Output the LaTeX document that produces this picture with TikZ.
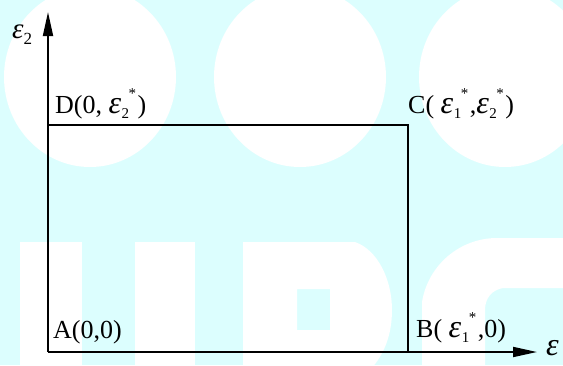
\documentclass[tikz,border=0pt]{standalone}
\usepackage{fontspec}
\setmainfont{Liberation Serif}
\usetikzlibrary{arrows.meta}
\definecolor{wmcyan}{RGB}{220,254,254}
\newcommand\epsv{{\fontsize{32}{32}\selectfont\itshape ε}}
\newcommand\epss[1]{\epsv\kern0.5pt\raisebox{-5.5pt}{\fontsize{15}{15}\selectfont #1}\kern-0.5pt\raisebox{15pt}{\fontsize{15}{15}\selectfont *}\kern1.5pt}
\begin{document}
\begin{tikzpicture}[x=1pt,y=-1pt,
  wm/.style={fill=white,draw=none},
  axisline/.style={line width=1.8pt,-{Triangle[length=24pt,width=10pt]}},
  boxline/.style={line width=1.7pt},
  lbl/.style={inner sep=0pt,anchor=base west,font=\fontsize{26}{30}\selectfont}]
\useasboundingbox (0,0) rectangle (563,365);
% watermark background
\fill[wmcyan] (0,0) rectangle (563,365);
\fill[wm] (90,77) ellipse [x radius=86, y radius=90];
\fill[wm] (300,77) ellipse [x radius=86, y radius=90];
\fill[wm] (505,77) ellipse [x radius=86, y radius=90];
\fill[wm] (20,242) rectangle (82,370);
\fill[wm] (135,242) rectangle (195,370);
\fill[wm,even odd rule] (243,242) -- (355,242) .. controls (378,250) and (392,280) .. (392,310)
  .. controls (392,335) and (384,355) .. (370,370) -- (243,370) -- cycle
  (297,289) rectangle (330,330);
\fill[wm] (422,370) -- (422,302) .. controls (428,265) and (460,238) .. (497,238) -- (570,238)
  -- (570,288) -- (503,288) .. controls (492,290) and (485,298) .. (485,310) -- (485,370) -- cycle;
% diagram
\coordinate (O) at (48,352);
\coordinate (Ytip) at (48,12);
\coordinate (Xtip) at (537,352);
\coordinate (Bc) at (408,352);
\coordinate (Cc) at (408,125);
\coordinate (Dc) at (48,125);
\draw[boxline] (Dc) -- (Cc) -- (Bc);
\draw[axisline] (O) -- (Ytip);
\draw[axisline] (O) -- (Xtip);
\node[lbl] (ylab) at (12,38) {{\fontsize{29}{29}\selectfont\itshape ε}\raisebox{-6pt}{\fontsize{17}{17}\selectfont 2}};
\node[lbl] (xlab) at (546,355) {\epsv};
\node[lbl] (A) at (53,338) {A(0,0)};
\node[lbl] (B) at (416,337) {B(\ \epss{1},0)};
\node[lbl] (C) at (408,113) {C(\ \epss{1},\epss{2})};
\node[lbl] (D) at (55,113) {D(0, \epss{2})};
\end{tikzpicture}
\end{document}
